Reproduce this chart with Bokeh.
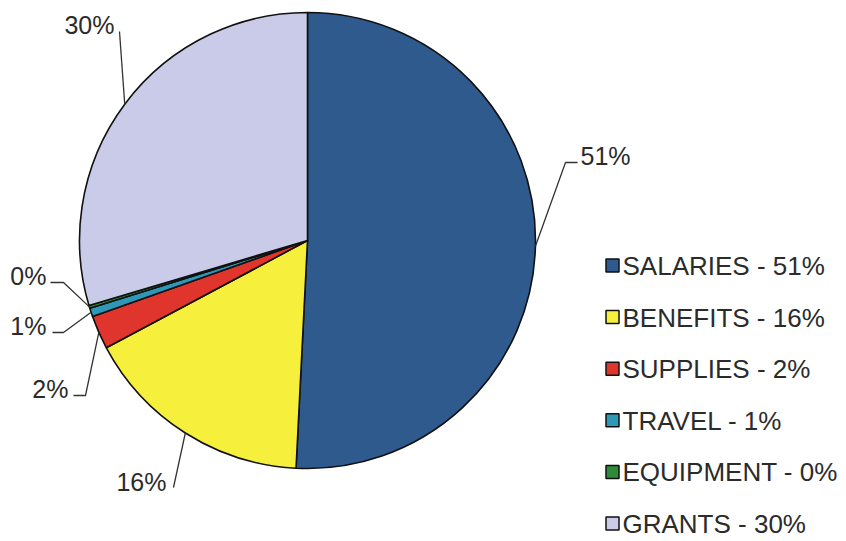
import math
from bokeh.plotting import figure
from bokeh.models import Range1d, ColumnDataSource
from bokeh.core.properties import value
from bokeh.embed import file_html
from bokeh.resources import INLINE

# ---- data ----
categories = ["SALARIES", "BENEFITS", "SUPPLIES", "TRAVEL", "EQUIPMENT", "GRANTS"]
shares = [50.8, 16.4, 2.4, 0.6, 0.2, 29.6]
colors = ["#2E5A8E", "#F6F03C", "#E0352D", "#2E98B8", "#2E8B3A", "#CACBE8"]

# ---- layout (picture pixel coords, y down) ----
W, H = 846, 541
def X(xr): return xr
def Y(yr): return H - yr

CX, CY, R = 307, 240, 228          # pie centre / radius (px)
FONT = "Liberation Sans"
FS = "25px"
TXT = "#2b2b2b"
TSHIFT = 8                         # baseline correction

# label layout: (elbow_x, elbow_y, end_x, end_y, text_x, baseline_y, align)
label_layout = {
    "SALARIES":  (565, 162, 577, 162, 580, 163, "left"),
    "BENEFITS":  (173, 487, 173, 487, 166, 489, "right"),
    "SUPPLIES":  (85, 395, 73, 395, 68, 396, "right"),
    "TRAVEL":    (63, 332, 52, 332, 46, 333, "right"),
    "EQUIPMENT": (63, 282, 50, 282, 46, 283, "right"),
    "GRANTS":    (119, 31, 119, 31, 114, 32, "right"),
}
legend_x = 612
legend_y0 = 265
legend_dy = 51.6

p = figure(width=W, height=H, x_range=Range1d(0, W), y_range=Range1d(0, H),
           x_axis_type=None, y_axis_type=None, toolbar_location=None,
           output_backend="svg", min_border=0, outline_line_color=None,
           background_fill_color="white", border_fill_color="white")
p.grid.visible = False

total = sum(shares)
starts, ends, mids = [], [], []
cum = 0.0
for v in shares:
    a0 = math.pi / 2 - 2 * math.pi * cum / total
    cum += v
    a1 = math.pi / 2 - 2 * math.pi * cum / total
    starts.append(a0); ends.append(a1); mids.append((a0 + a1) / 2)

src = ColumnDataSource(dict(start=starts, end=ends, color=colors, cat=categories))
p.wedge(x=X(CX), y=Y(CY), radius=R, start_angle="start", end_angle="end",
        direction="clock", fill_color="color", line_color="#111111",
        line_width=1.6, source=src)

# leader lines + percentage labels
for cat, v, m in zip(categories, shares, mids):
    ex, ey, nx, ny, tx, tb, align = label_layout[cat]
    ax = X(CX) + R * math.cos(m)
    ay = Y(CY) + R * math.sin(m)
    p.line([ax, X(ex), X(nx)], [ay, Y(ey), Y(ny)], line_color="#333333", line_width=1.3)
    p.text(x=[X(tx)], y=[Y(tb - TSHIFT)], text=[f"{round(v)}%"], text_font=value(FONT),
           text_font_size=FS, text_color=TXT, text_align=align,
           text_baseline="alphabetic")

# legend
for i, (cat, v, c) in enumerate(zip(categories, shares, colors)):
    cy = legend_y0 + i * legend_dy
    p.rect(x=[X(legend_x)], y=[Y(cy)], width=13, height=13, fill_color=c,
           line_color="#111111", line_width=1.5)
    p.text(x=[X(legend_x + 10)], y=[Y(cy + 8.5 - TSHIFT)], text=[f"{cat} - {round(v)}%"],
           text_font=value(FONT), text_font_size="26px", text_color=TXT,
           text_align="left", text_baseline="alphabetic")

open("out.html", "w").write(file_html(p, INLINE))
